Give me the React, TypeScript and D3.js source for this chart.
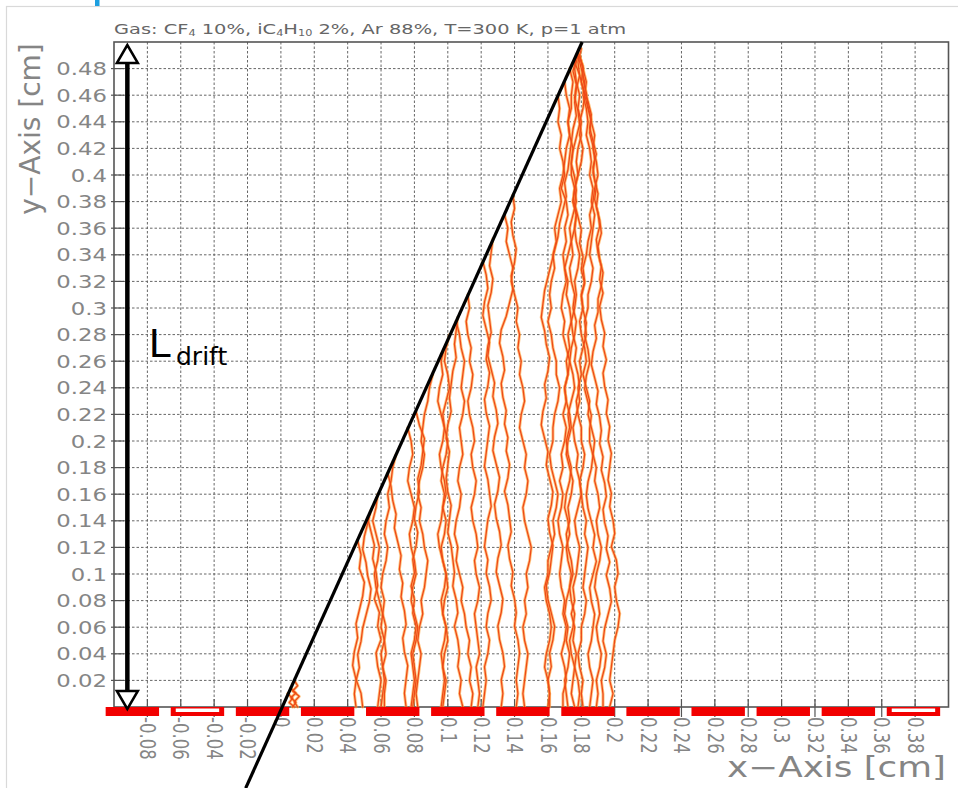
import React from 'react';
import * as d3 from 'd3';

const W = 958;
const H = 788;

// axis ticks (cm)
const xTicks = [-0.08, -0.06, -0.04, -0.02, 0, 0.02, 0.04, 0.06, 0.08, 0.1, 0.12, 0.14, 0.16, 0.18, 0.2, 0.22, 0.24, 0.26, 0.28, 0.3, 0.32, 0.34, 0.36, 0.38];
const xTickLabels = ['-0.08', '-0.06', '-0.04', '-0.02', '0', '0.02', '0.04', '0.06', '0.08', '0.1', '0.12', '0.14', '0.16', '0.18', '0.2', '0.22', '0.24', '0.26', '0.28', '0.3', '0.32', '0.34', '0.36', '0.38'];
const yTicks = [0.02, 0.04, 0.06, 0.08, 0.1, 0.12, 0.14, 0.16, 0.18, 0.2, 0.22, 0.24, 0.26, 0.28, 0.3, 0.32, 0.34, 0.36, 0.38, 0.4, 0.42, 0.44, 0.46, 0.48];
const yTickLabels = ['0.02', '0.04', '0.06', '0.08', '0.1', '0.12', '0.14', '0.16', '0.18', '0.2', '0.22', '0.24', '0.26', '0.28', '0.3', '0.32', '0.34', '0.36', '0.38', '0.4', '0.42', '0.44', '0.46', '0.48'];

// readout strips (left edge in cm, common width), hollow ones flagged
const stripLeft = [-0.105, -0.066, -0.027, 0.012, 0.051, 0.09, 0.129, 0.168, 0.207, 0.246, 0.285, 0.324, 0.363];
const stripWidth = 0.032;
const stripHollow = [false, true, false, false, false, false, false, false, false, false, false, false, true];

// inclined track (cm): [x, y]
const trackLineX = [-0.0211, 0.1805];
const trackLineY = [-0.061, 0.5];

// drift paths: start height (cm) and x positions (units of 0.001 cm), sampled evenly from start height down to y = 0
const driftTops = [
  0.02, 0.014, 0.01,
  0.148, 0.142, 0.125, 0.16, 0.176, 0.21, 0.222, 0.25, 0.27, 0.293, 0.29, 0.28,
  0.352, 0.385, 0.335, 0.37,
  0.495, 0.49, 0.49, 0.488, 0.485, 0.48, 0.47, 0.492, 0.46, 0.49,
  0.19, 0.31, 0.49,
];
const driftXs: number[][] = [
  [8, 10, 7, 11, 8, 10],
  [6, 9, 6, 9, 7],
  [4, 7, 5, 8],
  [54, 52, 50, 49, 51, 52, 54, 53, 51, 49, 48, 46, 47, 45, 44, 45],
  [52, 54, 56, 55, 57, 58, 56, 59, 58, 60, 57, 58, 60, 59, 58],
  [46, 48, 47, 50, 49, 47, 45, 46, 44, 43, 45, 48, 49],
  [58, 57, 55, 57, 59, 58, 56, 57, 59, 61, 60, 62, 63, 61, 62, 61, 60],
  [64, 66, 67, 69, 68, 70, 72, 71, 73, 72, 74, 75, 73, 74, 76, 75, 74, 75],
  [76, 78, 79, 77, 76, 78, 80, 79, 77, 78, 80, 81, 79, 78, 80, 82, 81, 79, 80, 81, 80, 79],
  [81, 83, 86, 85, 84, 82, 83, 81, 80, 82, 81, 79, 80, 78, 80, 79, 81, 80, 78, 79, 80, 79, 78],
  [91, 89, 88, 86, 85, 84, 86, 85, 83, 82, 84, 83, 85, 86, 88, 87, 86, 84, 85, 83, 82, 84, 83, 82, 81, 82],
  [98, 96, 97, 95, 94, 96, 98, 97, 95, 96, 98, 99, 97, 96, 94, 95, 97, 99, 98, 96, 97, 99, 100, 98, 97, 99, 98, 97],
  [106, 105, 104, 105, 103, 102, 101, 102, 100, 99, 101, 100, 99, 100, 102, 101, 100, 102, 103, 104, 103, 105, 106, 104, 106, 107, 106, 108, 107, 109],
  [105, 107, 108, 110, 109, 108, 110, 109, 107, 108, 109, 107, 106, 108, 107, 105, 104, 106, 105, 107, 109, 108, 110, 111, 113, 112, 114, 113, 115, 114],
  [101, 99, 98, 100, 101, 99, 97, 98, 100, 99, 97, 96, 98, 97, 99, 98, 96, 97, 99, 100, 98, 97, 99, 98, 96, 97, 98, 97, 96],
  [127, 126, 125, 127, 126, 124, 125, 126, 124, 123, 125, 124, 122, 123, 125, 124, 123, 122, 124, 125, 126, 124, 123, 122, 124, 123, 125, 126, 124, 123, 125, 124, 122, 123, 122, 121],
  [139, 140, 138, 139, 141, 140, 138, 139, 137, 135, 132, 131, 133, 134, 132, 133, 135, 134, 136, 135, 137, 136, 134, 136, 137, 138, 136, 137, 139, 138, 140, 141, 140, 142, 143, 142, 141, 142, 141],
  [121, 123, 124, 122, 121, 123, 125, 124, 126, 128, 127, 129, 130, 128, 127, 129, 131, 130, 128, 129, 131, 132, 130, 129, 131, 133, 132, 130, 131, 133, 134, 132, 133, 132],
  [134, 136, 135, 137, 139, 138, 140, 142, 141, 143, 142, 144, 143, 145, 146, 144, 143, 145, 147, 146, 148, 147, 145, 146, 148, 150, 149, 147, 148, 146, 147, 145, 146, 148, 147, 146, 145, 146],
  [180, 178, 179, 177, 176, 177, 175, 174, 173, 172, 170, 171, 169, 167, 166, 164, 162, 160, 158, 157, 156, 158, 159, 161, 160, 158, 159, 157, 156, 158, 160, 159, 161, 163, 162, 160, 161, 163, 162, 161, 159, 160, 162, 164, 163, 161, 162, 160, 161, 161],
  [179, 181, 180, 182, 181, 179, 180, 178, 177, 178, 176, 177, 175, 173, 174, 172, 170, 171, 169, 168, 170, 169, 171, 173, 172, 170, 171, 169, 171, 170, 168, 169, 167, 169, 168, 166, 167, 169, 168, 167, 168, 170, 169, 171, 170, 168, 170, 171, 169, 169],
  [178, 180, 182, 181, 183, 184, 183, 185, 186, 185, 187, 186, 188, 187, 186, 185, 187, 186, 184, 184, 182, 183, 181, 179, 180, 178, 179, 177, 175, 176, 178, 177, 179, 180, 178, 176, 177, 179, 178, 177, 175, 176, 174, 176, 175, 177, 176, 178, 179, 178],
  [177, 175, 177, 176, 178, 179, 177, 175, 174, 176, 177, 176, 178, 180, 179, 181, 180, 182, 180, 181, 183, 182, 184, 185, 183, 182, 184, 186, 185, 185, 187, 186, 184, 183, 184, 186, 188, 187, 189, 187, 185, 186, 188, 187, 186, 184, 185, 187, 186, 185],
  [176, 179, 181, 184, 186, 185, 187, 189, 187, 188, 190, 189, 191, 192, 190, 191, 193, 192, 190, 190, 188, 189, 187, 186, 188, 190, 189, 191, 192, 191, 193, 192, 194, 195, 193, 194, 196, 195, 197, 195, 197, 198, 196, 194, 193, 195, 194, 192, 193, 193],
  [173, 175, 174, 174, 172, 173, 171, 170, 169, 167, 168, 166, 164, 165, 163, 164, 162, 161, 162, 160, 162, 163, 165, 165, 167, 166, 164, 163, 163, 161, 162, 164, 166, 165, 163, 164, 162, 160, 160, 158, 159, 161, 162, 161, 159, 158, 160, 161, 160],
  [170, 171, 173, 172, 173, 175, 174, 174, 176, 175, 177, 176, 177, 179, 178, 176, 177, 176, 174, 175, 177, 176, 178, 179, 177, 178, 180, 180, 182, 181, 179, 180, 181, 183, 182, 184, 183, 182, 181, 183, 182, 180, 180, 178, 179, 181, 180, 181],
  [178, 181, 181, 183, 184, 186, 185, 187, 188, 187, 189, 188, 190, 191, 189, 190, 192, 191, 193, 191, 192, 194, 193, 195, 193, 194, 196, 195, 197, 196, 198, 197, 196, 198, 197, 199, 200, 198, 201, 202, 200, 201, 203, 202, 200, 199, 198, 197, 199, 197],
  [166, 167, 166, 168, 167, 169, 170, 168, 171, 172, 170, 171, 169, 170, 172, 171, 173, 174, 172, 173, 171, 172, 170, 171, 173, 174, 172, 171, 173, 175, 174, 172, 173, 171, 172, 174, 175, 173, 174, 176, 175, 173, 174, 176, 175, 174, 176],
  [179, 181, 183, 182, 184, 186, 188, 187, 189, 190, 188, 187, 185, 186, 184, 183, 181, 182, 180, 181, 179, 180, 182, 183, 181, 183, 185, 184, 186, 188, 187, 189, 188, 190, 191, 189, 190, 192, 191, 189, 188, 190, 191, 189, 190, 192, 191, 189, 190, 189],
  [69, 67, 66, 64, 65, 63, 62, 64, 63, 61, 60, 62, 61, 63, 62, 60, 61, 63, 62, 62],
  [112, 113, 111, 112, 114, 113, 115, 114, 112, 113, 115, 116, 114, 115, 117, 116, 114, 115, 117, 118, 116, 117, 119, 118, 116, 117, 118, 119, 117, 118, 119, 118],
  [178, 176, 177, 179, 178, 180, 179, 181, 180, 178, 176, 175, 177, 176, 174, 175, 173, 174, 176, 175, 177, 176, 174, 173, 175, 176, 174, 172, 173, 171, 172, 174, 173, 171, 170, 172, 173, 171, 172, 174, 173, 171, 170, 172, 171, 173, 172, 170, 171, 172],
];

const FONT = '"DejaVu Sans", Verdana, sans-serif';

export default function App() {
  const x = d3.scaleLinear().domain([-0.1, 0.4]).range([114, 948.5]);
  const y = d3.scaleLinear().domain([0, 0.5]).range([707, 42]);
  const [x0, x1] = x.domain();
  const [y0, y1] = y.domain();

  const line = d3
    .line<[number, number]>()
    .x((d) => x(d[0]))
    .y((d) => y(d[1]));

  const drifts = driftTops.map((top, k) => {
    const xs = driftXs[k];
    const n = xs.length;
    return xs.map((v, i) => [v / 1000, top * (1 - i / (n - 1))] as [number, number]);
  });

  const trackPts: [number, number][] = trackLineX.map((v, i) => [v, trackLineY[i]]);

  const stripTop = y(0);
  const stripH = 9;
  const arrowX = x(-0.092);
  const labelGray = '#858585';

  return (
    <svg
      width={W}
      height={H}
      style={{ position: 'absolute', left: 0, top: 0, background: '#fff' }}
      fontFamily={FONT}
    >
      <rect x={0} y={0} width={W} height={H} fill="#fff" />
      <rect x={6.5} y={6.5} width={W + 20} height={H + 20} fill="none" stroke="#d9d9d9" strokeWidth={1.2} />
      <rect x={95} y={0} width={4.5} height={6} fill="#1d9fe0" />

      {/* title */}
      <g transform={`translate(${x(x0)},34) scale(1.33,1)`}>
        <text x={0} y={0} fontSize={14.6} fill="#666">
          Gas: CF<tspan fontSize={8.5} dy={2}>4</tspan>
          <tspan dy={-2}> 10%, iC</tspan>
          <tspan fontSize={8.5} dy={2}>4</tspan>
          <tspan dy={-2}>H</tspan>
          <tspan fontSize={8.5} dy={2}>10</tspan>
          <tspan dy={-2}> 2%, Ar 88%, T=300 K, p=1 atm</tspan>
        </text>
      </g>

      {/* grid */}
      <g stroke="#666" strokeWidth={1} strokeDasharray="2.5,2" fill="none">
        {xTicks.map((t) => (
          <line key={'gx' + t} x1={x(t)} x2={x(t)} y1={y(y1)} y2={y(y0)} />
        ))}
        {yTicks.map((t) => (
          <line key={'gy' + t} x1={x(x0)} x2={x(x1)} y1={y(t)} y2={y(t)} />
        ))}
      </g>

      {/* ticks */}
      <g stroke="#555" strokeWidth={1.2}>
        {yTicks.map((t) => (
          <line key={'ty' + t} x1={x(x0) - 3} x2={x(x0) + 10} y1={y(t)} y2={y(t)} />
        ))}
        {xTicks.map((t) => (
          <line key={'tx' + t} x1={x(t)} x2={x(t)} y1={y(0) - 8} y2={y(0) + 10} />
        ))}
      </g>

      {/* frame */}
      <rect
        x={x(x0)}
        y={y(y1)}
        width={x(x1) - x(x0)}
        height={y(y0) - y(y1)}
        fill="none"
        stroke="#555"
        strokeWidth={1.6}
      />

      {/* y tick labels */}
      {yTicks.map((t, i) => (
        <g key={'yl' + t} transform={`translate(${x(x0) - 7},${y(t) + 6.5}) scale(1.3,1)`}>
          <text textAnchor="end" fontSize={17.5} fill={labelGray}>
            {yTickLabels[i]}
          </text>
        </g>
      ))}

      {/* x tick labels */}
      {xTicks.map((t, i) => (
        <g key={'xl' + t} transform={`translate(${x(t)},${y(0) + 10}) scale(1.3,1) rotate(90)`}>
          <text textAnchor="start" dominantBaseline="central" fontSize={16.5} fill={labelGray}>
            {xTickLabels[i]}
          </text>
        </g>
      ))}

      {/* axis titles */}
      <g transform={`translate(40,129) rotate(-90)`}>
        <text textAnchor="middle" fontSize={28} fill={labelGray}>
          y−Axis [cm]
        </text>
      </g>
      <g transform={`translate(946,777) scale(1.3,1)`}>
        <text textAnchor="end" fontSize={27.5} fill={labelGray}>
          x−Axis [cm]
        </text>
      </g>

      {/* drift paths */}
      <g fill="none" strokeLinejoin="round" strokeLinecap="round">
        {drifts.map((pts, k) => (
          <path key={'du' + k} d={line(pts) || ''} stroke="#ffab4a" strokeWidth={3} strokeOpacity={0.7} />
        ))}
        {drifts.map((pts, k) => (
          <path key={'dr' + k} d={line(pts) || ''} stroke="#ee4a18" strokeWidth={1.3} />
        ))}
      </g>

      {/* readout strips */}
      {stripLeft.map((s, i) => (
        <g key={'s' + i}>
          <rect x={x(s)} y={stripTop} width={x(s + stripWidth) - x(s)} height={stripH} fill="#f20000" />
          {stripHollow[i] && (
            <rect
              x={x(s) + 5}
              y={stripTop + 1.5}
              width={x(s + stripWidth) - x(s) - 10}
              height={3.5}
              fill="#fff"
            />
          )}
        </g>
      ))}

      {/* inclined track */}
      <path d={line(trackPts) || ''} stroke="#000" strokeWidth={3.2} fill="none" />

      {/* L_drift arrow */}
      <line x1={arrowX} x2={arrowX} y1={y(y1) + 18} y2={y(0) - 16} stroke="#000" strokeWidth={4.5} />
      <polygon
        points={`${arrowX},${y(y1) + 3} ${arrowX - 10.5},${y(y1) + 21} ${arrowX + 10.5},${y(y1) + 21}`}
        fill="#fff"
        stroke="#000"
        strokeWidth={2.5}
        strokeLinejoin="miter"
      />
      <polygon
        points={`${arrowX},${y(0) + 2} ${arrowX - 10.5},${y(0) - 16} ${arrowX + 10.5},${y(0) - 16}`}
        fill="#fff"
        stroke="#000"
        strokeWidth={2.5}
      />
      <text x={149} y={357} fontSize={41} fill="#000" fontFamily='"Liberation Sans", Arial, sans-serif'>
        L
      </text>
      <text x={176} y={365} fontSize={25} fill="#000">
        drift
      </text>
    </svg>
  );
}
